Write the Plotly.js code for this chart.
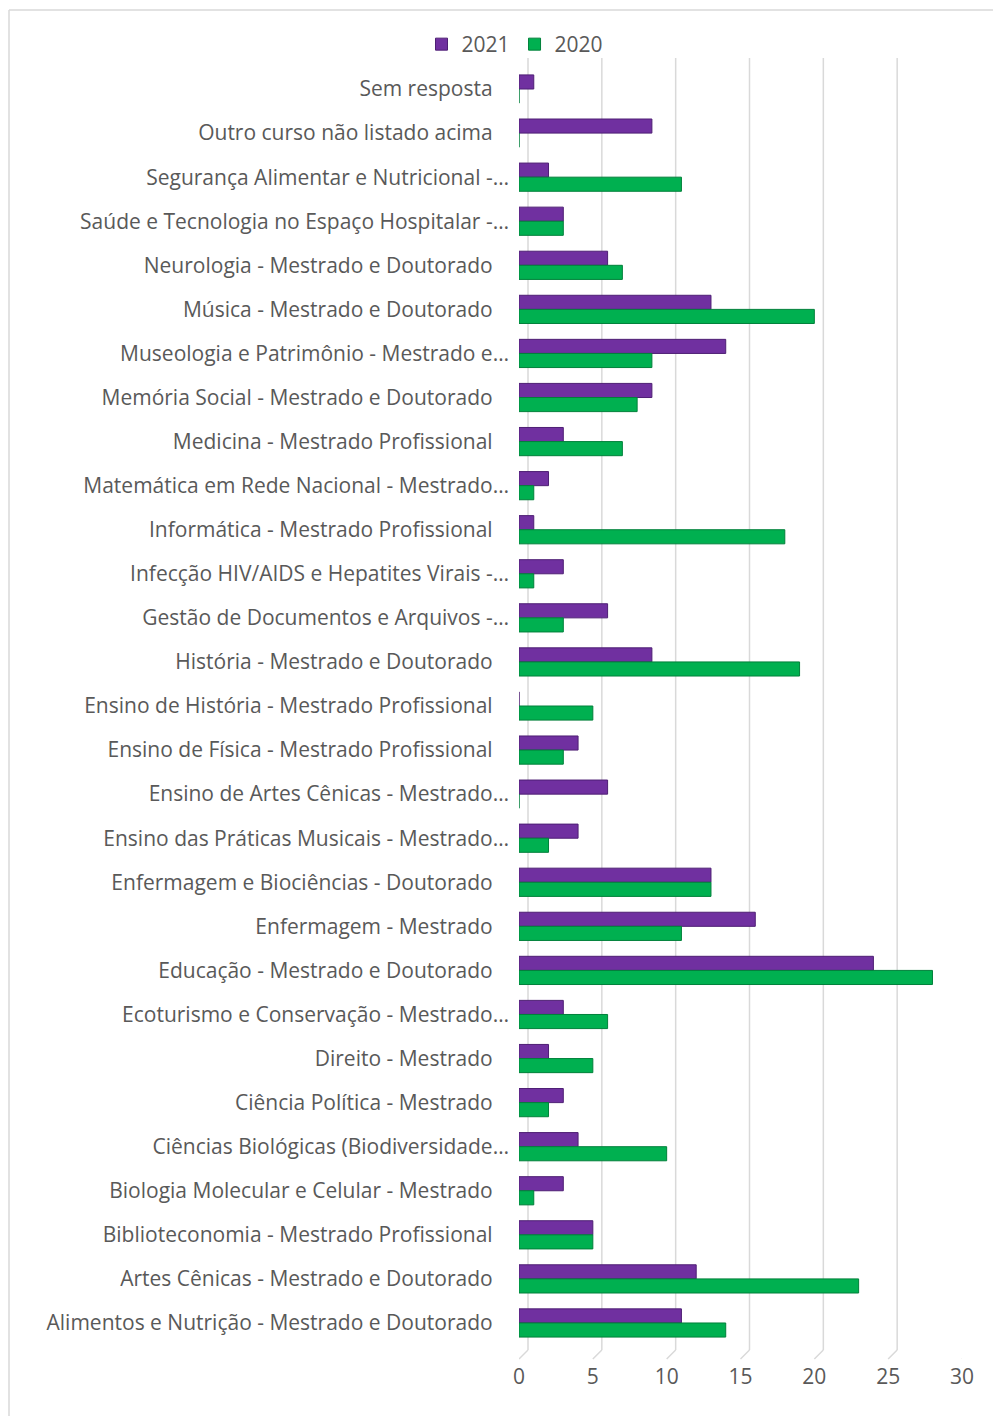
<!DOCTYPE html>
<html>
<head>
<meta charset="utf-8">
<script src="https://cdn.plot.ly/plotly-3.0.1.min.js"></script>
<style>
html,body{margin:0;padding:0;background:#fff;}
#chart{width:993px;height:1416px;}
</style>
</head>
<body>
<div id="chart"></div>
<script>
const categories = [
  "Sem resposta",
  "Outro curso não listado acima",
  "Segurança Alimentar e Nutricional -…",
  "Saúde e Tecnologia no Espaço Hospitalar -…",
  "Neurologia - Mestrado e Doutorado",
  "Música - Mestrado e Doutorado",
  "Museologia e Patrimônio - Mestrado e…",
  "Memória Social - Mestrado e Doutorado",
  "Medicina - Mestrado Profissional",
  "Matemática em Rede Nacional - Mestrado…",
  "Informática - Mestrado Profissional",
  "Infecção HIV/AIDS e Hepatites Virais -…",
  "Gestão de Documentos e Arquivos -…",
  "História - Mestrado e Doutorado",
  "Ensino de História - Mestrado Profissional",
  "Ensino de Física - Mestrado Profissional",
  "Ensino de Artes Cênicas - Mestrado…",
  "Ensino das Práticas Musicais - Mestrado…",
  "Enfermagem e Biociências - Doutorado",
  "Enfermagem - Mestrado",
  "Educação - Mestrado e Doutorado",
  "Ecoturismo e Conservação - Mestrado…",
  "Direito - Mestrado",
  "Ciência Política - Mestrado",
  "Ciências Biológicas (Biodiversidade…",
  "Biologia Molecular e Celular - Mestrado",
  "Biblioteconomia - Mestrado Profissional",
  "Artes Cênicas - Mestrado e Doutorado",
  "Alimentos e Nutrição - Mestrado e Doutorado"
];
const values2021 = [1, 9, 2, 3, 6, 13, 14, 9, 3, 2, 1, 3, 6, 9, 0, 4, 6, 4, 13, 16, 24, 3, 2, 3, 4, 3, 5, 12, 11];
const values2020 = [0, 0, 11, 3, 7, 20, 9, 8, 7, 1, 18, 1, 3, 19, 5, 3, 0, 2, 13, 11, 28, 6, 5, 2, 10, 1, 5, 23, 14];
const seriesNames = ["2021", "2020"];
const xTicks = [0, 5, 10, 15, 20, 25, 30];

// labels that are not truncated end a little further left in the original
const tickText = categories.map(c => c.endsWith("…") ? c : c + "\u00a0\u00a0\u00a0");

const textColor = "#595959";
const fontFam = "'Open Sans', 'Noto Sans', sans-serif";
const fs = 21;

const L = 519, R = 31, T = 58, B = 66;
const W = 993, H = 1416;
const pw = W - L - R, ph = H - T - B;
const px2x = p => (p - L) / pw;
const py2y = p => (H - B - p) / ph;
const catPx = 44.07;
const yTopPad = 9 / catPx, yBotPad = 5 / catPx;
const nCat = categories.length;
const backShift = 9 * 30 / pw;   // 3D back-wall offset of the gridlines, in axis units
const gridStyle = {color: "#d9d9d9", width: 1.5};

const traces = [
  {
    type: "bar", orientation: "h", name: seriesNames[0],
    y: categories, x: values2021,
    marker: {color: "#7030A0", line: {color: "#4e1f74", width: 1}},
    hoverinfo: "x+y"
  },
  {
    type: "bar", orientation: "h", name: seriesNames[1],
    y: categories, x: values2020,
    marker: {color: "#00B050", line: {color: "#00803a", width: 1}},
    hoverinfo: "x+y"
  }
];

// back-wall gridlines (shifted like in a 3D chart) and short slanted floor lines
const gridShapes = xTicks.map(v => ({
  type: "line", xref: "x", yref: "paper", layer: "below",
  x0: v + backShift, y0: 1, x1: v + backShift, y1: py2y(1350),
  line: gridStyle
}));
const floorShapes = xTicks.map(v => ({
  type: "line", xref: "x", yref: "paper", layer: "below",
  x0: v + backShift, y0: py2y(1350),
  x1: v, y1: py2y(1359),
  line: gridStyle
}));

const layout = {
  width: W, height: H,
  margin: {l: L, r: R, t: T, b: B, pad: 0},
  paper_bgcolor: "#ffffff",
  plot_bgcolor: "rgba(0,0,0,0)",
  barmode: "group",
  bargap: 0.36,
  bargroupgap: 0,
  font: {family: fontFam, color: textColor, size: fs},
  showlegend: true,
  legend: {
    orientation: "h",
    x: px2x(515), xanchor: "center",
    y: py2y(24), yanchor: "top",
    font: {family: fontFam, size: fs, color: textColor},
    itemwidth: 30,
    traceorder: "normal",
    bgcolor: "rgba(0,0,0,0)"
  },
  xaxis: {
    range: [0, 30],
    tickvals: xTicks,
    ticktext: xTicks.map(String),
    showgrid: false,
    zeroline: false,
    showline: false,
    ticks: "",
    ticklabelstandoff: 12,
    tickfont: {family: fontFam, size: fs, color: textColor},
    fixedrange: true
  },
  yaxis: {
    type: "category",
    categoryorder: "array",
    categoryarray: categories,
    tickvals: categories,
    ticktext: tickText,
    range: [nCat - 0.5 + yBotPad, -0.5 - yTopPad],
    showgrid: false,
    zeroline: false,
    showline: false,
    ticks: "",
    ticklabelstandoff: 9,
    tickfont: {family: fontFam, size: fs, color: textColor},
    fixedrange: true
  },
  shapes: [
    {type: "line", xref: "paper", yref: "paper",
     x0: px2x(9), x1: px2x(1000), y0: py2y(10), y1: py2y(10),
     line: gridStyle},
    {type: "line", xref: "paper", yref: "paper",
     x0: px2x(9), x1: px2x(9), y0: py2y(10), y1: py2y(1420),
     line: gridStyle}
  ].concat(gridShapes, floorShapes)
};

Plotly.newPlot("chart", traces, layout, {displayModeBar: false, staticPlot: true});
</script>
</body>
</html>
